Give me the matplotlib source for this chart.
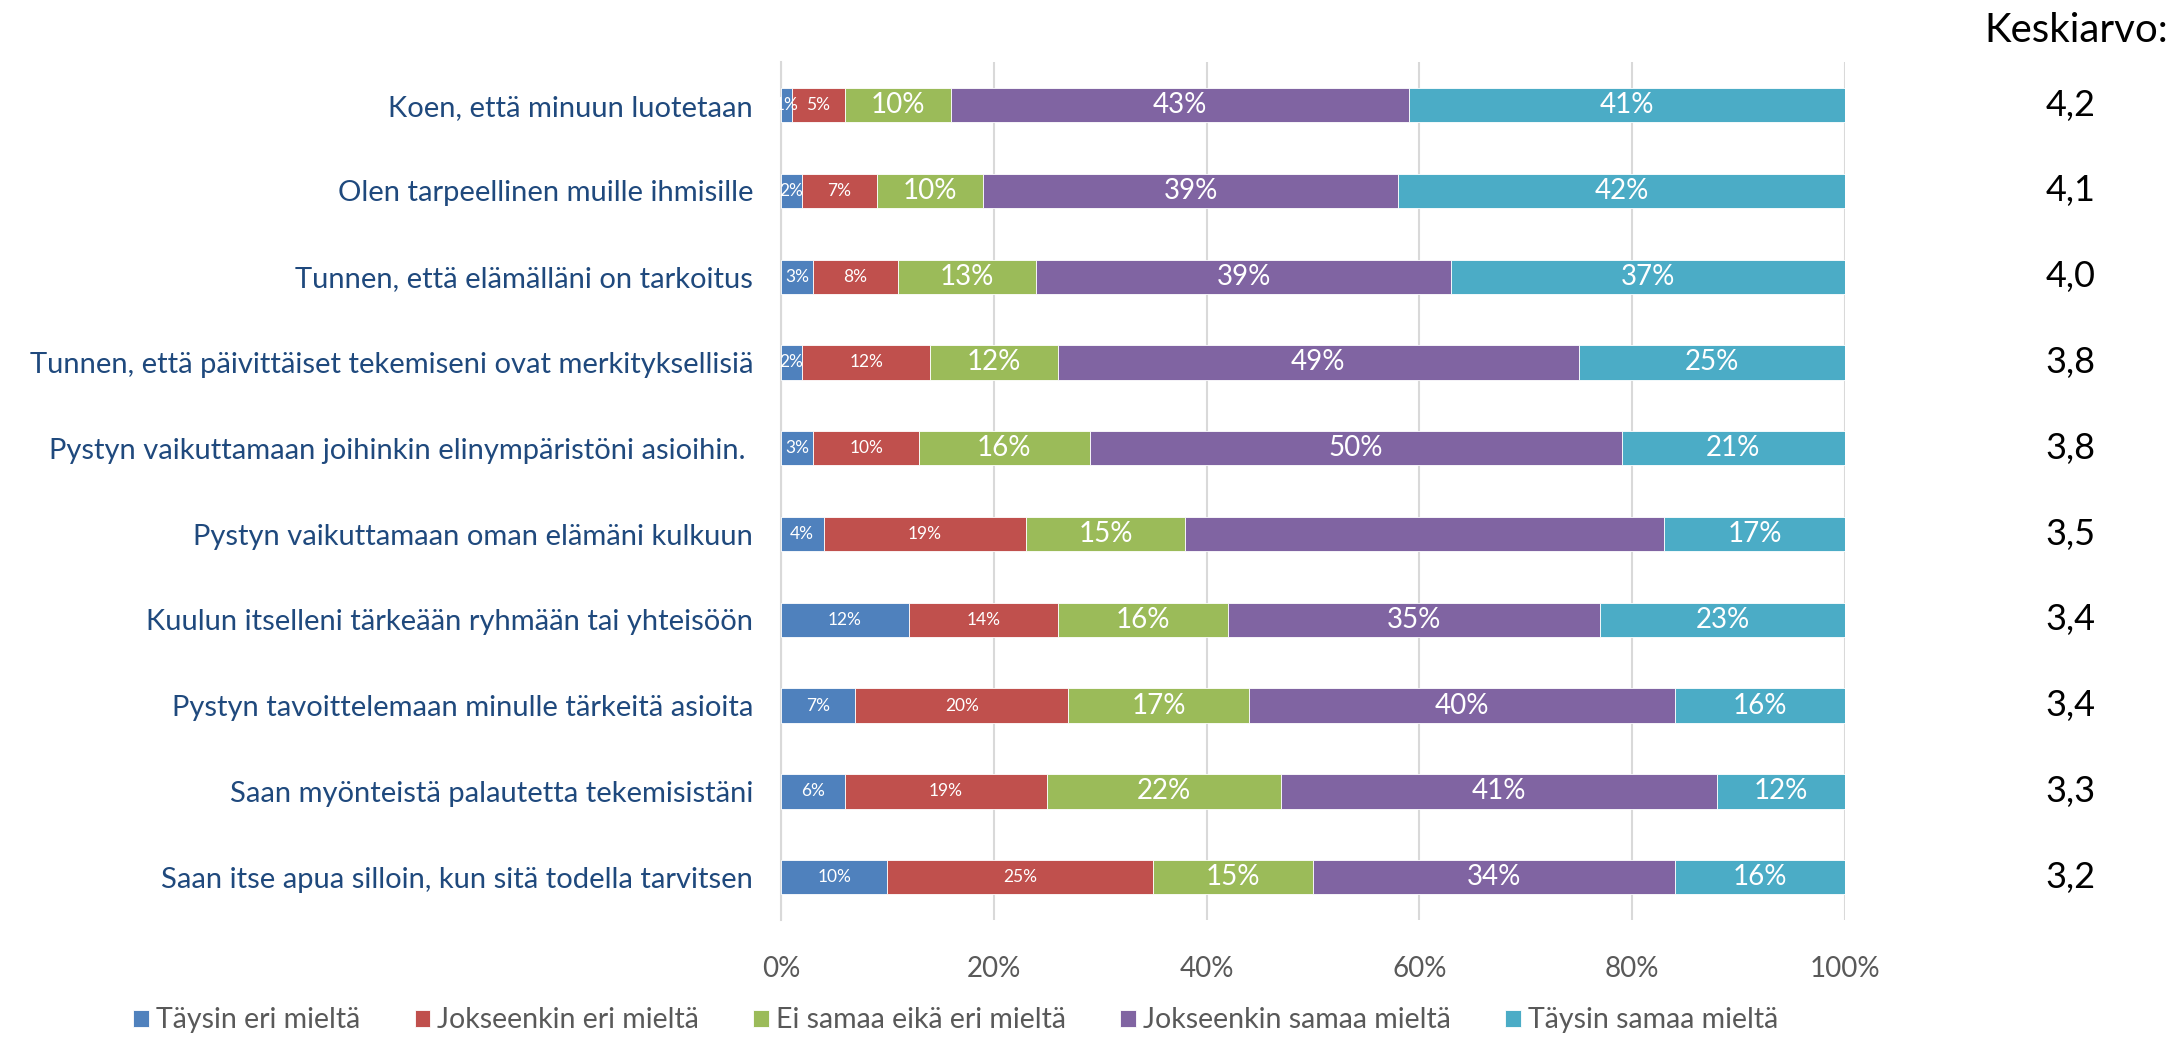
import matplotlib.pyplot as plt
import numpy as np
import matplotlib

matplotlib.rc("font", family=['Lato', 'DejaVu Sans'])

# data
kysymykset = ['Koen, että minuun luotetaan',
              'Olen tarpeellinen muille ihmisille',
              'Tunnen, että elämälläni on tarkoitus',
              'Tunnen, että päivittäiset tekemiseni ovat merkityksellisiä',
              'Pystyn vaikuttamaan joihinkin elinympäristöni asioihin. ',
              'Pystyn vaikuttamaan oman elämäni kulkuun',
              'Kuulun itselleni tärkeään ryhmään tai yhteisöön',
              'Pystyn tavoittelemaan minulle tärkeitä asioita',
              'Saan myönteistä palautetta tekemisistäni',
              'Saan itse apua silloin, kun sitä todella tarvitsen']
sarjat = ['Täysin eri mieltä', 'Jokseenkin eri mieltä', 'Ei samaa eikä eri mieltä',
          'Jokseenkin samaa mieltä', 'Täysin samaa mieltä']
taysin_eri = [1, 2, 3, 2, 3, 4, 12, 7, 6, 10]
jokseenkin_eri = [5, 7, 8, 12, 10, 19, 14, 20, 19, 25]
ei_samaa_eika_eri = [10, 10, 13, 12, 16, 15, 16, 17, 22, 15]
jokseenkin_samaa = [43, 39, 39, 49, 50, 45, 35, 40, 41, 34]
taysin_samaa = [41, 42, 37, 25, 21, 17, 23, 16, 12, 16]
# the purple bar of row 6 has no label in the original
nayta_label = [[True] * 10, [True] * 10, [True] * 10,
               [True] * 5 + [False] + [True] * 4, [True] * 10]
keskiarvo = ['4,2', '4,1', '4,0', '3,8', '3,8', '3,5', '3,4', '3,4', '3,3', '3,2']

varit = ['#4F81BD', '#C0504D', '#9BBB59', '#8064A2', '#4BACC6']
label_koot = [12.5, 12.5, 20, 20, 20]

arvot = [taysin_eri, jokseenkin_eri, ei_samaa_eika_eri, jokseenkin_samaa, taysin_samaa]

fig = plt.figure(figsize=(21.82, 10.37), dpi=100)
ax = fig.add_axes([0.3579, 0.1128, 0.4877, 0.8272])

y = np.arange(len(kysymykset))
vasen = np.zeros(len(kysymykset))
for i, s in enumerate(sarjat):
    v = np.array(arvot[i])
    ax.barh(y, v, left=vasen, height=0.4, color=varit[i], label=s,
            edgecolor='white', linewidth=0.6, zorder=3)
    for j in range(len(v)):
        if nayta_label[i][j]:
            ax.text(vasen[j] + v[j] / 2, y[j], f'{v[j]}%', ha='center', va='center',
                    color='white', fontsize=label_koot[i], zorder=4)
    vasen += v

ax.set_xlim(0, 100)
ax.set_ylim(len(kysymykset) - 0.5, -0.5)
ax.set_xticks([0, 20, 40, 60, 80, 100])
ax.set_xticklabels(['0%', '20%', '40%', '60%', '80%', '100%'], fontsize=20, color='#595959')
ax.set_yticks(y)
ax.set_yticklabels(kysymykset, fontsize=21, color='#1F497D')
ax.tick_params(axis='both', length=0)
ax.tick_params(axis='y', pad=20)
ax.tick_params(axis='x', pad=26)
ax.xaxis.grid(True, color='#D9D9D9', linewidth=1.5, zorder=0)
for sp in ['top', 'right', 'bottom']:
    ax.spines[sp].set_visible(False)
ax.spines['left'].set_color('#D9D9D9')
ax.spines['left'].set_linewidth(1.5)

# keskiarvot oikealle
fig.text(0.9935, 0.971, 'Keskiarvo:', ha='right', va='center', fontsize=29, color='black')
for j, k in enumerate(keskiarvo):
    ax.text(1.212, y[j], k, transform=ax.get_yaxis_transform(), ha='center', va='center',
            fontsize=26, color='black')

fig.legend(loc='center', bbox_to_anchor=(0.438, 0.016), ncol=5, frameon=False,
           fontsize=20.5, labelcolor='#595959', handlelength=0.55, handleheight=0.55,
           handletextpad=0.25, columnspacing=1.9)

plt.savefig('out.png', dpi=100)
